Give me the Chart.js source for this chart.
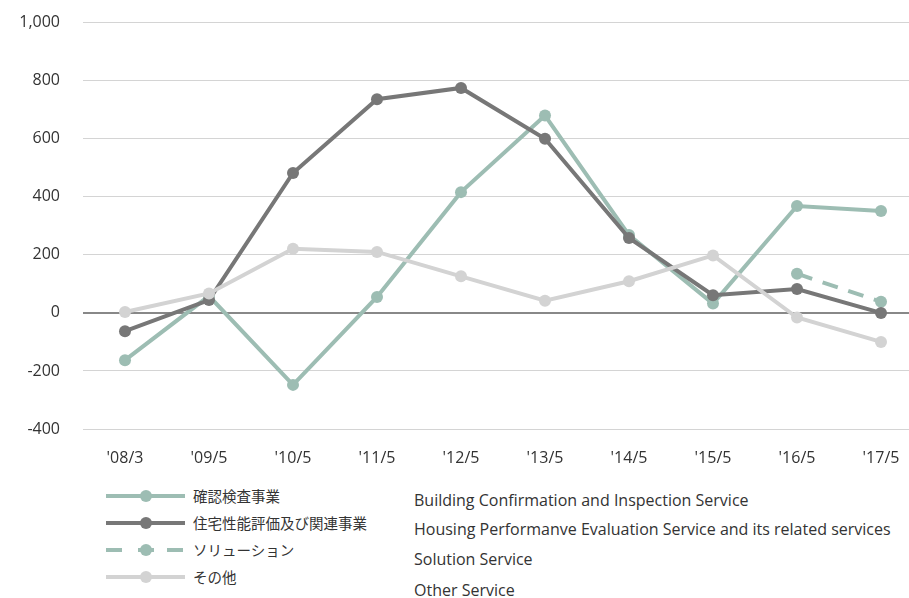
<!DOCTYPE html>
<html>
<head>
<meta charset="utf-8">
<script src="https://cdn.jsdelivr.net/npm/chart.js@4/dist/chart.umd.min.js"></script>
<style>
  html, body { margin: 0; padding: 0; background: #fff; }
  body { width: 909px; height: 598px; overflow: hidden; position: relative; font-family: "Open Sans", sans-serif; color: #333; }
  #wrap { position: absolute; left: 0; top: -10px; width: 909px; height: 480px; overflow: hidden; }
  #wrap canvas { display: block; }
  .lg { position: absolute; left: 0; top: 0; }
  .row { position: absolute; left: 106px; height: 20px; width: 300px; }
  .sample { position: absolute; left: 0; top: 8px; width: 79px; height: 4px; }
  .sample .ln { position: absolute; left: 0; top: 0; width: 79px; height: 4px; }
  .sample .dot { position: absolute; left: 34px; top: -4px; width: 12px; height: 12px; border-radius: 50%; }
  .sample .d1, .sample .d2 { position: absolute; top: 0; width: 16px; height: 4px; }
  .jp { position: absolute; left: 87px; top: 0; font-family: "Noto Sans CJK JP", sans-serif; font-size: 14.5px; line-height: 20px; color: #333; white-space: nowrap; }
  .en { position: absolute; left: 414px; font-size: 16px; line-height: 22px; color: #333; white-space: nowrap; }
</style>
</head>
<body>
<div id="wrap"><canvas id="chart" width="929" height="480" style="width:929px;height:480px"></canvas></div>
<div class="lg" id="legend"></div>
<script>
const categories = ["'08/3", "'09/5", "'10/5", "'11/5", "'12/5", "'13/5", "'14/5", "'15/5", "'16/5", "'17/5"];
const yTicks = [-400, -200, 0, 200, 400, 600, 800, 1000];

const confirmation = [-163, 58, -248, 55, 416, 680, 268, 32, 368, 351];
const housing = [-63, 44, 482, 736, 775, 600, 258, 61, 82, 0];
const solution = [null, null, null, null, null, null, null, null, 135, 38];
const other = [3, 67, 221, 210, 126, 42, 109, 198, -16, -100];

const jpNames = ['確認検査事業', '住宅性能評価及び関連事業', 'ソリューション', 'その他'];
const enNames = [
  'Building Confirmation and Inspection Service',
  'Housing Performanve Evaluation Service and its related services',
  'Solution Service',
  'Other Service'
];

const GREEN = '#9dbdb3';
const DARK = '#777777';
const LIGHT = '#d3d3d3';

function line(data, color, dash) {
  return {
    data,
    borderColor: color,
    backgroundColor: color,
    borderWidth: 4,
    borderDash: dash || [],
    pointRadius: 6,
    pointHoverRadius: 6,
    pointBorderWidth: 0,
    pointBackgroundColor: color,
    tension: 0,
    spanGaps: false
  };
}

new Chart(document.getElementById('chart'), {
  type: 'line',
  data: {
    labels: categories,
    datasets: [
      line(other, LIGHT),
      line(housing, DARK),
      line(solution, GREEN, [16, 11]),
      line(confirmation, GREEN)
    ]
  },
  options: {
    responsive: false,
    animation: false,
    layout: { padding: { top: 12, right: 0, left: 0, bottom: 0 } },
    plugins: { legend: { display: false }, tooltip: { enabled: false } },
    scales: {
      x: {
        offset: true,
        grid: { display: false },
        border: { display: false },
        ticks: { color: '#333', font: { family: 'Open Sans', size: 16 }, padding: 12, maxRotation: 0 },
        afterFit: s => { s.height = 41; }
      },
      y: {
        min: -400,
        max: 1000,
        afterBuildTicks: s => { s.ticks = yTicks.map(v => ({ value: v })); },
        border: { display: false },
        grid: {
          drawTicks: false,
          color: ctx => ctx.tick && ctx.tick.value === 0 ? '#888888' : '#d4d4d4',
          lineWidth: ctx => ctx.tick && ctx.tick.value === 0 ? 2 : 1
        },
        ticks: {
          color: '#333',
          font: { family: 'Open Sans', size: 16 },
          padding: 23,
          callback: v => v.toLocaleString('en-US')
        },
        afterFit: s => { s.width = 83; }
      }
    }
  }
});

// legend: Japanese with line samples on the left, English names in a second column
const legend = document.getElementById('legend');
const rowTops = [486, 513, 540, 567];
const enTops = [489, 518, 548, 579];
const styles = [
  { color: GREEN, dashed: false },
  { color: DARK, dashed: false },
  { color: GREEN, dashed: true },
  { color: LIGHT, dashed: false }
];

jpNames.forEach((name, i) => {
  const st = styles[i];
  const row = document.createElement('div');
  row.className = 'row';
  row.style.top = rowTops[i] + 'px';
  let sample;
  if (st.dashed) {
    sample = `<div class="sample">
      <div class="d1" style="left:0;background:${st.color}"></div>
      <div class="d2" style="left:61px;background:${st.color}"></div>
      <div class="d2" style="left:32px;width:16px;background:${st.color}"></div>
      <div class="dot" style="background:${st.color}"></div></div>`;
  } else {
    sample = `<div class="sample"><div class="ln" style="background:${st.color}"></div>
      <div class="dot" style="background:${st.color}"></div></div>`;
  }
  row.innerHTML = sample + `<span class="jp">${name}</span>`;
  legend.appendChild(row);

  const en = document.createElement('div');
  en.className = 'en';
  en.style.top = enTops[i] + 'px';
  en.textContent = enNames[i];
  legend.appendChild(en);
});
</script>
</body>
</html>
